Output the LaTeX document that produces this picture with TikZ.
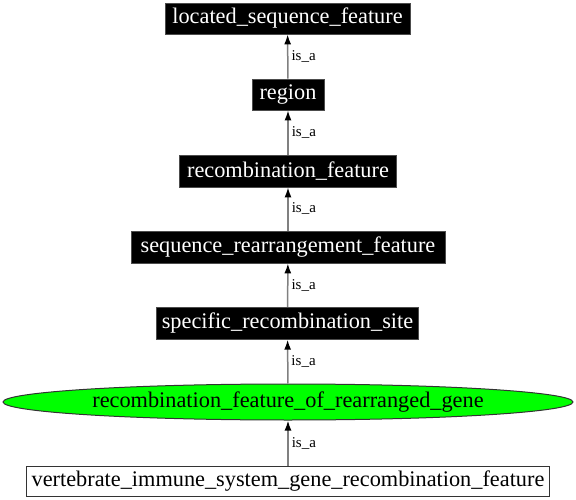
\documentclass[tikz,border=0pt]{standalone}
\usepackage{fontspec}
\setmainfont{Liberation Serif}
\usetikzlibrary{arrows.meta,shapes.geometric}
\begin{document}
\begin{tikzpicture}[x=1pt,y=-1pt,
  blackbox/.style={rectangle,fill=black,draw=gray!60!black,line width=0.8pt,text=white,inner sep=0pt,
    font=\fontsize{22.3}{26}\selectfont},
  whitebox/.style={rectangle,fill=white,draw=black!80,line width=1pt,text=black,inner sep=0pt,
    font=\fontsize{22.3}{26}\selectfont},
  greenell/.style={ellipse,fill=green,draw=black!80,line width=1pt,inner sep=0pt,
    font=\fontsize{22.3}{26}\selectfont},
  isa/.style={draw=gray,line width=1.5pt,-{Latex[length=10pt,width=7pt,color=black]}},
  lbl/.style={font=\fontsize{15}{18}\selectfont,anchor=west,inner sep=1pt,xshift=2pt}
]
\useasboundingbox (0,0) rectangle (576,500);
\node[blackbox,minimum width=245,minimum height=31] (lsf) at (287.5,18.5) {located\_sequence\_feature};
\node[blackbox,minimum width=72,minimum height=31] (reg) at (288,94.5) {region};
\node[blackbox,minimum width=217,minimum height=32] (rf) at (288,171) {recombination\_feature};
\node[blackbox,minimum width=314,minimum height=32] (srf) at (288,247) {sequence\_rearrangement\_feature};
\node[blackbox,minimum width=262,minimum height=32] (srs) at (287.5,323.3) {specific\_recombination\_site};
\node[greenell,minimum width=570,minimum height=36] (rfrg) at (288,402) {recombination\_feature\_of\_rearranged\_gene};
\node[whitebox,minimum width=523,minimum height=30] (vis) at (288,481) {vertebrate\_immune\_system\_gene\_recombination\_feature};
\draw[isa] (reg) -- node[lbl] (l1) {is\_a} (lsf);
\draw[isa] (rf) -- node[lbl] (l2) {is\_a} (reg);
\draw[isa] (srf) -- node[lbl] (l3) {is\_a} (rf);
\draw[isa] (srs) -- node[lbl] (l4) {is\_a} (srf);
\draw[isa] (rfrg) -- node[lbl] (l5) {is\_a} (srs);
\draw[isa] (vis) -- node[lbl] (l6) {is\_a} (rfrg);
\end{tikzpicture}
\end{document}
